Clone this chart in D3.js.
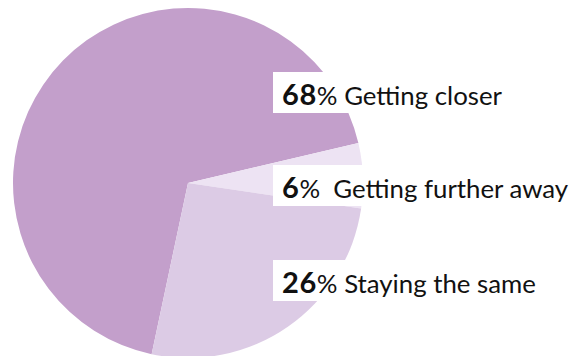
<!DOCTYPE html>
<html>
<head>
<meta charset="utf-8">
<script src="https://cdn.jsdelivr.net/npm/d3@7"></script>
<style>
  html, body { margin: 0; padding: 0; background: #fff; }
  svg { display: block; }
</style>
</head>
<body>
<svg id="chart" width="577" height="356"></svg>
<script>
const categories = ["Getting closer", "Getting further away", "Staying the same"];
const values = [68, 6, 26];
const colors = ["#c39fcb", "#ede3f3", "#dccbe5"];
const separators = [" ", "  ", " "];

const svg = d3.select("#chart");
const cx = 188, cy = 183, radius = 175;

const pie = d3.pie()
  .sort(null)
  .value(d => d)
  .startAngle(-168 * Math.PI / 180)
  .endAngle(192 * Math.PI / 180);

const arc = d3.arc().innerRadius(0).outerRadius(radius);

const g = svg.append("g").attr("transform", `translate(${cx},${cy})`);
g.selectAll("path")
  .data(pie(values))
  .join("path")
  .attr("d", arc)
  .attr("fill", (d, i) => colors[i]);

// labels
const labelX = 273;
const baselines = [105, 198, 293];
const fontFamily = "Lato, 'Noto Sans', sans-serif";
const fontSize = 25.8;
const numSize = 29;

const labels = svg.append("g");
categories.forEach((cat, i) => {
  const lg = labels.append("g");
  const rect = lg.append("rect")
    .attr("x", labelX)
    .attr("y", baselines[i] - 33)
    .attr("height", 41)
    .attr("fill", "#fff");
  const t = lg.append("text")
    .attr("x", labelX + 9)
    .attr("y", baselines[i])
    .attr("font-family", fontFamily)
    .attr("font-size", fontSize)
    .attr("fill", "#111");
  t.append("tspan").attr("font-weight", 700).attr("font-size", numSize).attr("letter-spacing", 0.6).text(values[i]);
  t.append("tspan").attr("font-weight", 400).text("%");
  t.append("tspan").attr("font-weight", 400).attr("xml:space", "preserve").style("white-space", "pre").text(separators[i] + cat);
  const w = t.node().getComputedTextLength();
  rect.attr("width", w + 18);
});
</script>
</body>
</html>
